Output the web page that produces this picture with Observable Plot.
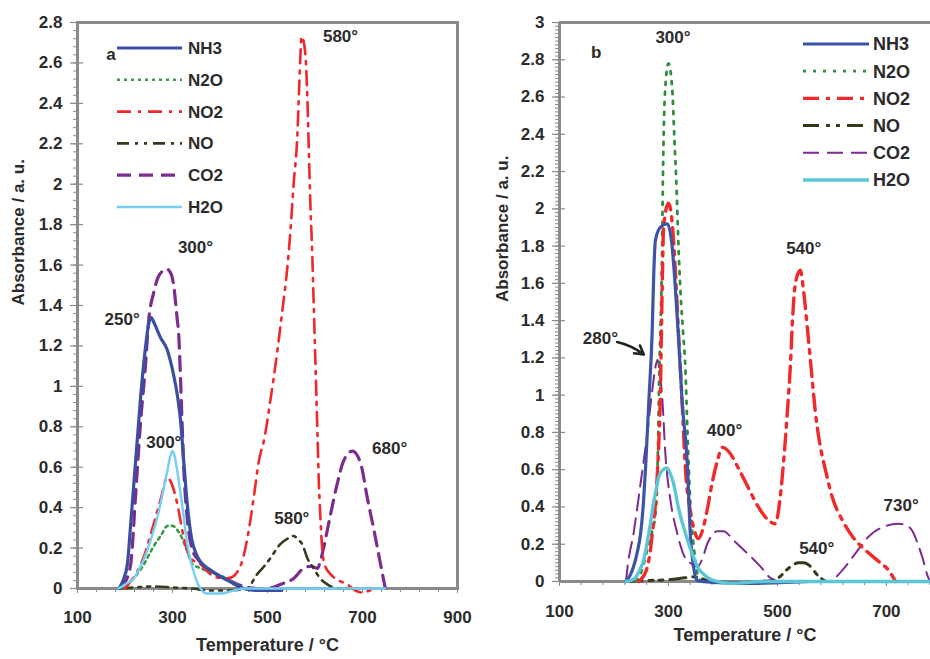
<!DOCTYPE html>
<html><head><meta charset="utf-8">
<script src="https://cdn.jsdelivr.net/npm/d3@7"></script>
<script src="https://cdn.jsdelivr.net/npm/@observablehq/plot@0.6"></script>
<style>
body{margin:0;background:#fff;}
#wrap{position:relative;width:930px;height:659px;overflow:hidden;font-family:"Liberation Sans",Arial,sans-serif;}
#wrap svg{position:absolute;top:0;overflow:visible;}
</style></head><body><div id="wrap"></div>
<script>
// ---------- DATA ----------
const seriesNames = ["NH3","N2O","NO2","NO","CO2","H2O"];

// Panel a: [temperature °C, absorbance]
const a_NH3 = [[187,0],[196,0.04],[205,0.12],[212,0.32],[219,0.53],[226,0.74],[233,0.95],[243,1.19],[250,1.31],[255,1.34],[262,1.31],[275,1.24],[289,1.18],[302,1.06],[310,0.96],[317,0.83],[324,0.62],[331,0.42],[340,0.25],[350,0.17],[360,0.13],[380,0.09],[400,0.06],[420,0.035],[450,0.0],[480,-0.01],[530,-0.01]];
const a_N2O = [[190,0],[200,0.01],[210,0.03],[225,0.07],[240,0.12],[258,0.2],[275,0.26],[290,0.31],[300,0.31],[310,0.29],[320,0.25],[330,0.19],[342,0.12],[360,0.1],[380,0.08],[405,0.06],[428,0.03],[450,0]];
const a_NO2 = [[200,0],[210,0.03],[225,0.08],[240,0.16],[258,0.3],[275,0.44],[289,0.55],[298,0.52],[310,0.42],[324,0.25],[338,0.15],[359,0.12],[380,0.07],[394,0.055],[415,0.05],[428,0.06],[436,0.08],[443,0.11],[457,0.24],[471,0.45],[481,0.62],[494,0.75],[506,0.93],[521,1.18],[531,1.37],[541,1.57],[548,1.76],[555,2.0],[563,2.25],[567,2.5],[572,2.73],[578,2.68],[581,2.6],[584,2.42],[587,2.17],[590,1.92],[594,1.67],[597,1.43],[601,1.11],[605,0.78],[608,0.53],[611,0.37],[615,0.2],[620,0.12],[633,0.07],[650,0.04],[668,0.02],[685,-0.01],[700,-0.02],[715,-0.01],[725,0]];
const a_NO  = [[190,0],[220,0.005],[260,0.01],[300,0.005],[340,0],[380,-0.01],[420,-0.01],[445,-0.005],[457,0.0],[478,0.07],[493,0.11],[506,0.15],[527,0.22],[545,0.25],[555,0.26],[565,0.24],[573,0.22],[584,0.15],[597,0.1],[611,0.05],[626,0.02],[647,0],[680,0]];
const a_CO2 = [[190,0],[200,0.03],[212,0.12],[222,0.45],[233,0.83],[243,1.1],[250,1.33],[260,1.46],[272,1.55],[288,1.58],[298,1.55],[303,1.49],[310,1.33],[313,1.26],[317,1.03],[320,0.83],[324,0.58],[331,0.35],[342,0.19],[355,0.14],[380,0.09],[420,0.04],[450,0.01],[480,0],[500,0],[527,0.02],[555,0.05],[576,0.1],[591,0.11],[605,0.1],[612,0.14],[618,0.2],[633,0.37],[647,0.52],[660,0.63],[679,0.68],[696,0.62],[710,0.45],[724,0.29],[738,0.12],[748,0]];
const a_H2O = [[186,0],[200,0.02],[218,0.05],[233,0.11],[247,0.19],[258,0.27],[268,0.35],[280,0.48],[289,0.58],[296,0.66],[300,0.68],[305,0.65],[310,0.58],[320,0.42],[331,0.22],[340,0.12],[345,0.08],[352,0.03],[359,0],[373,-0.025],[400,-0.025],[430,-0.01],[450,0],[500,0],[600,0],[700,0],[748,0]];

// Panel b
const b_NH3 = [[221,0],[229,0.03],[236,0.08],[243,0.16],[249,0.26],[254,0.42],[258,0.61],[264,0.97],[270,1.33],[273,1.65],[276,1.83],[285,1.9],[298,1.92],[307,1.79],[313,1.56],[318,1.33],[325,0.97],[335,0.61],[340,0.26],[346,0.08],[353,0.005],[380,-0.005],[450,-0.01],[520,-0.005],[560,0]];
const b_N2O = [[240,0],[250,0.05],[261,0.17],[270,0.27],[276,0.36],[279,0.5],[281,0.75],[283,1.1],[285,1.33],[287,1.56],[288.5,1.83],[289.5,2.1],[291,2.37],[294,2.64],[300,2.78],[307,2.64],[311,2.37],[315,2.1],[318,1.83],[322,1.56],[327,1.33],[331,1.15],[335,0.79],[340,0.43],[344,0.26],[350,0.1],[355,0.02],[362,0],[400,0]];
const b_NO2 = [[245,0],[258,0.05],[266,0.15],[272,0.3],[277,0.45],[280,0.6],[283,0.8],[285,0.97],[287,1.33],[289,1.65],[291,1.9],[300,2.03],[307,1.92],[313,1.65],[318,1.36],[325,0.97],[331,0.61],[340,0.38],[346,0.29],[355,0.23],[362,0.27],[368,0.34],[381,0.54],[390,0.65],[399,0.72],[410,0.7],[428,0.61],[447,0.5],[465,0.4],[483,0.33],[496,0.31],[505,0.45],[511,0.63],[518,0.9],[524,1.17],[528,1.42],[533,1.6],[542,1.67],[548,1.56],[555,1.36],[564,1.08],[570,0.9],[579,0.72],[588,0.6],[601,0.45],[619,0.33],[638,0.24],[661,0.17],[685,0.11],[704,0.06],[717,0]];
const b_NO  = [[222,0],[260,0.005],[300,0.01],[330,0.02],[345,0.025],[360,0.015],[380,0.0],[420,-0.005],[470,0],[490,0.005],[502,0.02],[520,0.07],[538,0.1],[548,0.1],[557,0.09],[575,0.03],[592,0],[650,0],[720,0],[780,0]];
const b_CO2 = [[222,0],[225,0.08],[236,0.26],[249,0.53],[261,0.79],[270,1.02],[276,1.15],[280,1.19],[284,1.12],[289,0.97],[294,0.7],[304,0.43],[316,0.26],[327,0.15],[340,0.1],[353,0.08],[362,0.12],[371,0.2],[380,0.25],[390,0.27],[401,0.27],[420,0.22],[445,0.15],[469,0.08],[487,0.02],[507,0],[560,0],[594,0],[619,0.06],[643,0.15],[667,0.24],[692,0.29],[722,0.31],[738,0.3],[748,0.27],[758,0.2],[766,0.13],[777,0.02],[781,0]];
const b_H2O = [[222,0],[230,0.005],[239,0.02],[247,0.06],[254,0.11],[259,0.18],[264,0.26],[269,0.35],[273,0.43],[278,0.5],[282,0.56],[290,0.6],[297,0.61],[303,0.58],[309,0.53],[318,0.4],[331,0.26],[346,0.13],[355,0.07],[364,0.04],[378,0.01],[390,0],[414,-0.01],[440,-0.005],[480,0],[600,0],[700,0],[781,0]];

// Ticks
const xTicksA = [100,300,500,700,900];
const yTicksA = [0,0.2,0.4,0.6,0.8,1,1.2,1.4,1.6,1.8,2,2.2,2.4,2.6,2.8];
const xTicksB = [100,300,500,700];
const yTicksB = [0,0.2,0.4,0.6,0.8,1,1.2,1.4,1.6,1.8,2,2.2,2.4,2.6,2.8,3];

// Annotations [temperature, absorbance, text]
const notesA = [[653.7,2.73,"580°"],[348.4,1.687,"300°"],[194.1,1.33,"250°"],[281.7,0.724,"300°"],[551.2,0.348,"580°"],[757.2,0.691,"680°"],[170.5,2.64,"a"]];
const notesB = [[308.3,2.918,"300°"],[548.3,1.786,"540°"],[403.1,0.81,"400°"],[175,1.303,"280°"],[572.2,0.175,"540°"],[727.2,0.408,"730°"],[167.4,2.84,"b"]];
const arrowsB = [[205.8,1.285,254.7,1.218]];

// ---------- STYLES ----------
const stylesA = {
  NH3:{stroke:"#3a4ea2", w:3.2, dash:null},
  N2O:{stroke:"#3c9a4c", w:2.6, dash:"3,4"},
  NO2:{stroke:"#f0282c", w:2.6, dash:"14,7,3,7"},
  NO:{stroke:"#363d1e", w:2.6, dash:"12,6,3,6,3,6"},
  CO2:{stroke:"#7c2b8e", w:3.2, dash:"14,8"},
  H2O:{stroke:"#74cff2", w:2.4, dash:null}
};
const stylesB = {
  NH3:{stroke:"#3c54a8", w:3.2, dash:null},
  N2O:{stroke:"#2f8f3f", w:2.8, dash:"3,7"},
  NO2:{stroke:"#f02a2a", w:3.4, dash:"16,7,4,7"},
  NO:{stroke:"#343a1c", w:3, dash:"16,7,4,6,4,7"},
  CO2:{stroke:"#7c2b8e", w:2, dash:"16,8"},
  H2O:{stroke:"#5cc6d6", w:3.4, dash:null}
};
const drawOrder = ["CO2","NO","N2O","NO2","NH3","H2O"];
const TXT = "#2b2b2b", AX = "#8a8a8a";
const FONT = "'Liberation Sans', Arial, sans-serif";

function curveMarks(series, styles) {
  return drawOrder.map(n => Plot.line(series[n], {
    x: d => d[0], y: d => d[1], stroke: styles[n].stroke, strokeWidth: styles[n].w,
    strokeDasharray: styles[n].dash || undefined, curve: "monotone-x", strokeLinejoin: "round"
  }));
}
function noteMarks(notes) {
  return Plot.text(notes, {x: d => d[0], y: d => d[1], text: d => d[2], fontSize: 17, fontWeight: "bold", fill: TXT});
}

// ---------- PANEL A ----------
const serA = {NH3:a_NH3, N2O:a_N2O, NO2:a_NO2, NO:a_NO, CO2:a_CO2, H2O:a_H2O};
const minorYA = d3.range(0, 71).map(i => i * 0.04);
const minorXA = d3.range(100, 901, 40);
const plotA = Plot.plot({
  width: 470, height: 659, marginLeft: 77, marginRight: 13, marginTop: 22, marginBottom: 71,
  x: {domain: [100, 900]}, y: {domain: [0, 2.8]},
  style: {fontFamily: FONT, fontSize: "17px", fontWeight: "bold", background: "transparent", overflow: "visible"},
  marks: [
    Plot.axisY(minorYA, {tickSize: 4, fill: "none", stroke: AX, label: null}),
    Plot.axisY(yTicksA, {tickSize: 7, tickPadding: 8, stroke: AX, fill: TXT, strokeWidth: 1.2, label: null, tickFormat: d => String(d)}),
    Plot.axisY(yTicksA, {tickSize: 6, dx: 6, fill: "none", stroke: AX, strokeWidth: 1.2, label: null}),
    Plot.axisX(minorXA, {tickSize: 4, fill: "none", stroke: AX, label: null}),
    Plot.axisX(xTicksA, {tickSize: 5, tickPadding: 17, stroke: AX, fill: TXT, label: null, tickFormat: d => String(d)}),
    Plot.frame({stroke: AX, strokeWidth: 3}),
    ...curveMarks(serA, stylesA),
    noteMarks(notesA),
    Plot.text(["Absorbance / a. u."], {text: d => d, frameAnchor: "left", rotate: -90, dx: -59, fontSize: 17, fontWeight: "bold", fill: TXT}),
    Plot.text(["Temperature / °C"], {text: d => d, frameAnchor: "bottom", dy: 62, fontSize: 18, fontWeight: "bold", fill: TXT})
  ]
});
plotA.style.left = "0px";

// ---------- PANEL B ----------
const serB = {NH3:b_NH3, N2O:b_N2O, NO2:b_NO2, NO:b_NO, CO2:b_CO2, H2O:b_H2O};
const minorYB = d3.range(0, 151).map(i => i * 0.02);
const minorXB = d3.range(100, 781, 40);
const plotB = Plot.plot({
  width: 465, height: 659, marginLeft: 94, marginRight: 0, marginTop: 22, marginBottom: 78,
  x: {domain: [100, 781]}, y: {domain: [0, 3]},
  style: {fontFamily: FONT, fontSize: "17px", fontWeight: "bold", background: "transparent", overflow: "visible"},
  marks: [
    Plot.axisY(minorYB, {tickSize: 4, fill: "none", stroke: AX, label: null}),
    Plot.axisY(yTicksB, {tickSize: 7, tickPadding: 8, stroke: AX, fill: TXT, strokeWidth: 1.2, label: null, tickFormat: d => String(d)}),
    Plot.axisY(yTicksB, {tickSize: 6, dx: 6, fill: "none", stroke: AX, strokeWidth: 1.2, label: null}),
    Plot.axisX(minorXB, {tickSize: 4, fill: "none", stroke: AX, label: null}),
    Plot.axisX(xTicksB, {tickSize: 5, tickPadding: 18, stroke: AX, fill: TXT, label: null, tickFormat: d => String(d)}),
    Plot.ruleY([0, 3], {stroke: AX, strokeWidth: 3}),
    Plot.ruleX([100], {stroke: AX, strokeWidth: 3}),
    ...curveMarks(serB, stylesB),
    noteMarks(notesB),
    Plot.arrow(arrowsB, {x1: d => d[0], y1: d => d[1], x2: d => d[2], y2: d => d[3], stroke: "#222", strokeWidth: 2.6, headLength: 11, bend: 12}),
    Plot.text(["Absorbance / a. u."], {text: d => d, frameAnchor: "left", rotate: -90, dx: -57, fontSize: 17, fontWeight: "bold", fill: TXT}),
    Plot.text(["Temperature / °C"], {text: d => d, frameAnchor: "bottom", dy: 59, fontSize: 18, fontWeight: "bold", fill: TXT})
  ]
});
plotB.style.left = "465px";

const wrap = document.getElementById("wrap");
wrap.appendChild(plotA);
wrap.appendChild(plotB);

// ---------- LEGENDS ----------
const ov = d3.select(wrap).append("svg").attr("width", 930).attr("height", 659).style("left", "0px").style("pointer-events", "none");
function legend(styles, lay) {
  seriesNames.forEach((n, i) => {
    const y = lay.y0 + i * lay.dy, st = styles[n];
    ov.append("line").attr("x1", lay.x1).attr("x2", lay.x2).attr("y1", y).attr("y2", y)
      .attr("stroke", st.stroke).attr("stroke-width", st.w).attr("stroke-dasharray", st.dash || null);
    ov.append("text").attr("x", lay.tx).attr("y", y).attr("dy", "0.35em").text(n)
      .attr("font-family", FONT).attr("font-weight", "bold").attr("font-size", lay.fs).attr("fill", TXT);
  });
}
legend(stylesA, {x1: 117, x2: 182, tx: 188, y0: 48, dy: 31.8, fs: 17});
legend(stylesB, {x1: 803, x2: 869, tx: 873, y0: 44, dy: 27.2, fs: 18});
</script></body></html>
